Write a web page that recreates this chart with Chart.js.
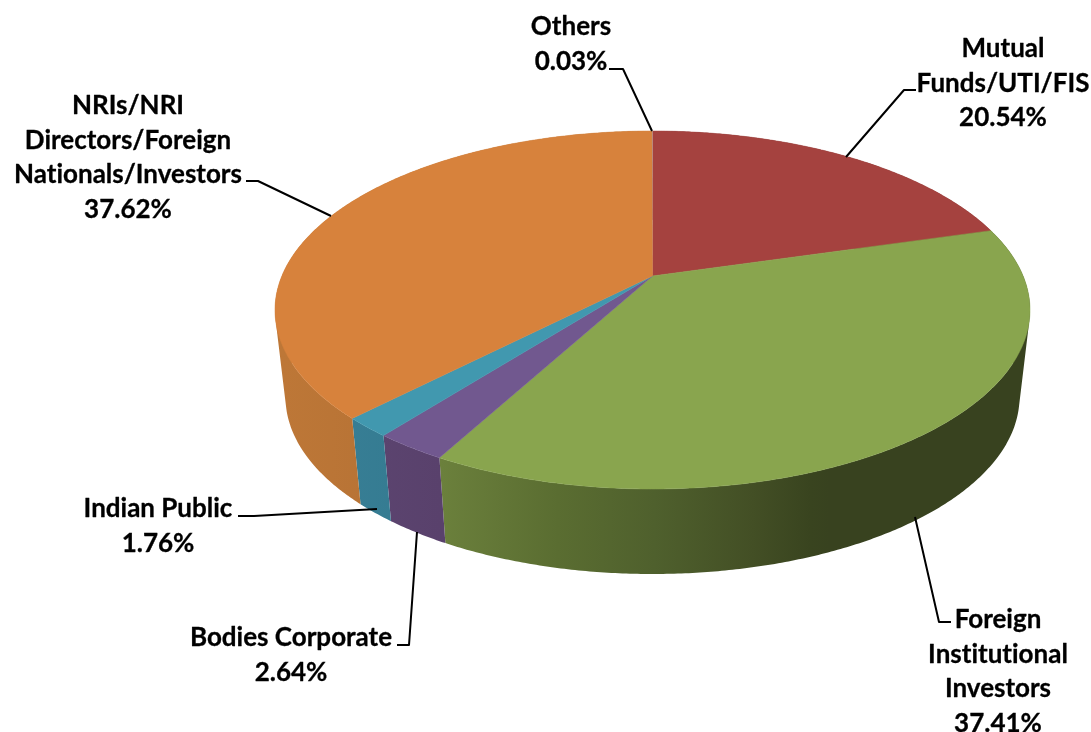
<!doctype html>
<html lang="en">

<head>
    <meta charset="utf-8">
    <title>Shareholding Pattern</title>
    <style>
        * {
            margin: 0;
            padding: 0;
        }

        body {
            background: #fff;
            overflow: hidden;
        }
    </style>
</head>

<body>
    <canvas id="myChart" width="1091" height="732"></canvas>

    <script src="https://cdn.jsdelivr.net/npm/chart.js"></script>
    <script>
        // data, clockwise from 12 o'clock
        const categories = ['Mutual Funds/UTI/FIS', 'Foreign Institutional Investors', 'Bodies Corporate', 'Indian Public', 'NRIs/NRI Directors/Foreign Nationals/Investors', 'Others'];
        const shares = [20.54, 37.41, 2.64, 1.76, 37.62, 0.03];

        // how each category name wraps on the picture
        const nameLines = [
            ['Mutual', 'Funds/UTI/FIS'],
            ['Foreign', 'Institutional', 'Investors'],
            ['Bodies Corporate'],
            ['Indian Public'],
            ['NRIs/NRI', 'Directors/Foreign', 'Nationals/Investors'],
            ['Others']
        ];

        // slice styling
        const topColors = ['#A5423F', '#89A54E', '#71588F', '#4198AF', '#D7823C', '#C8B4AC'];
        const wallStops = [
            [[0, '#6e2c2a'], [1, '#6e2c2a']],
            [[0, '#6B803C'], [0.3, '#5A6D31'], [0.55, '#4F602D'], [0.8, '#434F25'], [0.95, '#39441F'], [1, '#38421F']],
            [[0, '#5E4873'], [1, '#59416C']],
            [[0, '#3A8097'], [1, '#337A90']],
            [[0, '#BD7737'], [0.5, '#B26F33'], [1, '#B26F33']],
            [[0, '#888'], [1, '#888']]
        ];

        // placement of each label: centre x, first line y, leader line points
        const labelBoxes = [
            { x: 1003, y: 49, leader: [[916, 90], [904, 90], [846, 157]] },
            { x: 998, y: 620, leader: [[951, 622], [939, 622], [915, 517]] },
            { x: 291, y: 638, leader: [[397, 645], [409, 645], [417, 532]] },
            { x: 158, y: 509, leader: [[238, 516], [254, 516], [377, 509]] },
            { x: 128, y: 106, leader: [[246, 181], [258, 181], [331, 216]] },
            { x: 571, y: 27, leader: [[609, 69], [623, 69], [652, 131]] }
        ];

        // the two discs of the 3d pie, offset = how far the tilt moves the pie centre
        const topDisc = { cx: 652.5, cy: 310, rx: 377.5, ry: 179, offset: -0.19 };
        const bottomDisc = { cx: 652.5, cy: 397, rx: 367, ry: 177, offset: -0.19 };
        const lineHeight = 34.5;

        // perspective map of a point on the rim (angle clockwise from the top)
        function rim(disc, angle) {
            const sx = Math.sin(angle);
            const sy = -Math.cos(angle);
            const c = disc.offset;
            const d = 1 + c * sy;
            return [disc.cx + disc.rx * sx * Math.sqrt(1 - c * c) / d, disc.cy + disc.ry * (sy + c) / d];
        }

        function arcPoints(disc, from, to) {
            const steps = Math.max(2, Math.ceil(Math.abs(to - from) * 120));
            const pts = [];
            for (let i = 0; i <= steps; i++) {
                pts.push(rim(disc, from + (to - from) * i / steps));
            }
            return pts;
        }

        function addPoly(ctx, pts) {
            pts.forEach((p, i) => i ? ctx.lineTo(p[0], p[1]) : ctx.moveTo(p[0], p[1]));
            ctx.closePath();
        }

        function signedArea(pts) {
            let s = 0;
            pts.forEach((p, i) => {
                const q = pts[(i + 1) % pts.length];
                s += p[0] * q[1] - q[0] * p[1];
            });
            return s;
        }

        // replaces the flat arcs, angles come from the chart's own arc elements
        const pie3d = {
            id: 'pie3d',
            beforeDatasetDraw(chart) {
                const ctx = chart.ctx;
                const arcs = chart.getDatasetMeta(0).data.map(el => {
                    const p = el.getProps(['startAngle', 'endAngle']);
                    return { from: p.startAngle + Math.PI / 2, to: p.endAngle + Math.PI / 2 };
                });

                // side walls first, all quads wound the same way in one path so nothing cancels
                arcs.forEach((a, i) => {
                    const upper = arcPoints(topDisc, a.from, a.to);
                    const lower = arcPoints(bottomDisc, a.from, a.to);
                    const grad = i === 1 ? ctx.createLinearGradient(441, 0, 830, 0)
                        : ctx.createLinearGradient(Math.min(upper[0][0], 283), 0, Math.max(upper[upper.length - 1][0], 440), 0);
                    wallStops[i].forEach(s => grad.addColorStop(s[0], s[1]));
                    ctx.beginPath();
                    for (let k = 0; k < upper.length - 1; k++) {
                        const quad = [upper[k], upper[k + 1], lower[k + 1], lower[k]];
                        addPoly(ctx, signedArea(quad) < 0 ? quad.reverse() : quad);
                    }
                    ctx.fillStyle = grad;
                    ctx.fill();
                });

                // then the top face
                const apex = [topDisc.cx, topDisc.cy + topDisc.ry * topDisc.offset];
                arcs.forEach((a, i) => {
                    ctx.beginPath();
                    addPoly(ctx, [apex].concat(arcPoints(topDisc, a.from, a.to)));
                    ctx.fillStyle = topColors[i];
                    ctx.fill();
                    if (i < 5) {
                        ctx.strokeStyle = topColors[i];
                        ctx.lineWidth = 0.5;
                        ctx.stroke();
                    }
                });
                return false;
            },
            afterDraw(chart) {
                const ctx = chart.ctx;
                ctx.save();
                ctx.strokeStyle = '#000';
                ctx.lineWidth = 2;
                ctx.lineJoin = 'round';
                labelBoxes.forEach(b => {
                    ctx.beginPath();
                    b.leader.forEach((p, i) => i ? ctx.lineTo(p[0], p[1]) : ctx.moveTo(p[0], p[1]));
                    ctx.stroke();
                });
                ctx.fillStyle = '#000';
                ctx.lineWidth = 0.3;
                ctx.font = 'bold 26px Lato';
                ctx.textRendering = 'optimizeSpeed';
                ctx.textAlign = 'center';
                ctx.textBaseline = 'middle';
                labelBoxes.forEach((b, i) => {
                    const lines = nameLines[i].concat(shares[i].toFixed(2) + '%');
                    lines.forEach((t, k) => {
                        ctx.fillText(t, b.x, b.y + k * lineHeight);
                        ctx.strokeText(t, b.x, b.y + k * lineHeight);
                    });
                });
                ctx.restore();
            }
        };

        const myChart = new Chart(document.getElementById('myChart'), {
            type: 'pie',
            data: {
                labels: categories,
                datasets: [{ data: shares, backgroundColor: topColors, borderWidth: 0 }]
            },
            options: {
                responsive: false,
                animation: false,
                plugins: {
                    legend: { display: false },
                    tooltip: { enabled: false }
                }
            },
            plugins: [pie3d]
        });
    </script>

</body>

</html>
